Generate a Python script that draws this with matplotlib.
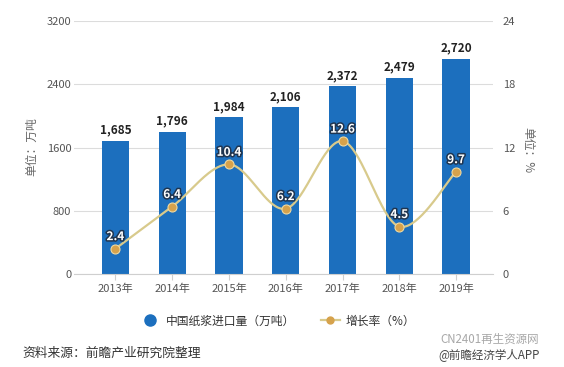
import numpy as np
import matplotlib
matplotlib.use("Agg")
import matplotlib.pyplot as plt
import matplotlib.patheffects as pe
from matplotlib.lines import Line2D

plt.rcParams["font.family"] = ["Noto Sans CJK SC", "DejaVu Sans"]

years = ["2013年", "2014年", "2015年", "2016年", "2017年", "2018年", "2019年"]
imports = [1685, 1796, 1984, 2106, 2372, 2479, 2720]   # 万吨
growth = [2.4, 6.4, 10.4, 6.2, 12.6, 4.5, 9.7]          # %

BAR_COLOR = "#1c6fbe"
LINE_COLOR = "#d8ca8c"
DOT_COLOR = "#d6a24c"
GRID_COLOR = "#dcdcdc"
TICK_COLOR = "#555555"


def smooth_curve(xs, ys, n=40):
    """Catmull-Rom curve through the given points (for drawing only)."""
    pts = np.column_stack([xs, ys]).astype(float)
    p = np.vstack([pts[0], pts, pts[-1]])
    t = np.linspace(0, 1, n)[:, None]
    segs = []
    for i in range(1, len(p) - 2):
        p0, p1, p2, p3 = p[i - 1], p[i], p[i + 1], p[i + 2]
        seg = 0.5 * (2 * p1 + (-p0 + p2) * t
                     + (2 * p0 - 5 * p1 + 4 * p2 - p3) * t ** 2
                     + (-p0 + 3 * p1 - 3 * p2 + p3) * t ** 3)
        segs.append(seg)
    out = np.vstack(segs)
    return out[:, 0], out[:, 1]


fig = plt.figure(figsize=(5.64, 3.67), dpi=100)
ax = fig.add_axes([74 / 564, 1 - 274 / 367, (493 - 74) / 564, (274 - 21) / 367])
ax2 = ax.twinx()

x = np.arange(len(years))

# bars
ax.bar(x, imports, width=0.48, color=BAR_COLOR, zorder=2)
for xi, v in zip(x, imports):
    ax.annotate(f"{v:,}", (xi, v), xytext=(0, 3), textcoords="offset points",
                ha="center", va="bottom", fontsize=8.5, fontweight="bold",
                color="#222222")

ax.set_xlim(-0.73, 6.65)
ax.set_ylim(0, 3200)
ax.set_yticks([0, 800, 1600, 2400, 3200])
ax.set_xticks(x)
ax.set_xticklabels(years)
ax.grid(axis="y", color=GRID_COLOR, linewidth=0.8, zorder=0)
ax.set_axisbelow(True)
for s in ["top", "right", "left"]:
    ax.spines[s].set_visible(False)
ax.spines["bottom"].set_color("#cfcfcf")
ax.tick_params(axis="y", length=0, pad=2, labelsize=8, labelcolor=TICK_COLOR)
ax.tick_params(axis="x", length=4, color="#cfcfcf", pad=3, labelsize=8,
               labelcolor=TICK_COLOR)

# growth line
cx, cy = smooth_curve(x, growth)
ax2.plot(cx, cy, color=LINE_COLOR, linewidth=1.6, zorder=3)
ax2.plot(x, growth, "o", color=DOT_COLOR, markersize=6.5,
         markeredgecolor="#efd9a0", markeredgewidth=0.8, zorder=4)
for xi, v in zip(x, growth):
    ax2.annotate(f"{v}", (xi, v), xytext=(0, 4), textcoords="offset points",
                 ha="center", va="bottom", fontsize=8.5, fontweight="bold",
                 color="white", zorder=5,
                 path_effects=[pe.withStroke(linewidth=2.2, foreground="#1f3550")])
ax2.set_ylim(0, 24)
ax2.set_yticks([0, 6, 12, 18, 24])
for s in ax2.spines.values():
    s.set_visible(False)
ax2.tick_params(axis="y", length=0, pad=7, labelsize=8, labelcolor=TICK_COLOR)

# axis titles
fig.text(32 / 564, 1 - 147 / 367, "单位：万吨", rotation=90, ha="center",
         va="center", fontsize=8.5, color="#666666")
fig.text(528 / 564, 1 - 150 / 367, "单位：%", rotation=-90, ha="center",
         va="center", fontsize=8.5, color="#666666")

# legend
handles = [
    Line2D([], [], linestyle="none", marker="o", markersize=8,
           color=BAR_COLOR, label="中国纸浆进口量（万吨）"),
    Line2D([], [], color=LINE_COLOR, linewidth=1.6, marker="o", markersize=5,
           markerfacecolor=DOT_COLOR, markeredgecolor=DOT_COLOR,
           label="增长率（%）"),
]
fig.legend(handles=handles, loc="center", bbox_to_anchor=(278 / 564, 1 - 321 / 367),
           ncol=2, frameon=False, fontsize=8.5, handlelength=1.6,
           handletextpad=0.5, columnspacing=2.2, labelcolor="#333333")

# source and credits
fig.text(22 / 564, 1 - 353 / 367, "资料来源：前瞻产业研究院整理", ha="left",
         va="center", fontsize=9.2, color="#333333")
fig.text(539 / 564, 1 - 339 / 367, "CN2401再生资源网", ha="right",
         va="center", fontsize=8.3, color="#a8a8a8")
fig.text(540 / 564, 1 - 355 / 367, "@前瞻经济学人APP", ha="right",
         va="center", fontsize=8.3, color="#444444")

fig.savefig("out.png", dpi=100)
